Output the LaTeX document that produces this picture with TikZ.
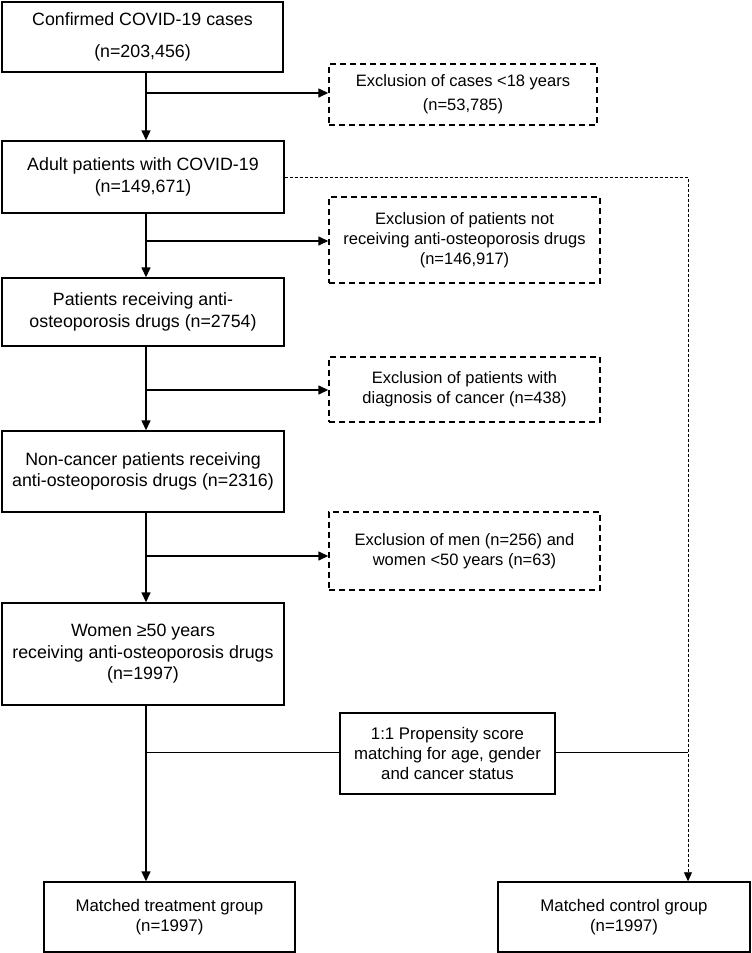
\documentclass[tikz,border=0pt]{standalone}
\usepackage{fontspec}
\setmainfont{Liberation Sans}
\usetikzlibrary{arrows.meta}
\begin{document}
\begin{tikzpicture}[x=1pt,y=-1pt,
  box/.style={draw, line width=1.4pt, align=center, inner sep=0pt, font=\fontsize{17.8}{21.5}\selectfont},
  exbox/.style={draw, line width=1.4pt, dash pattern=on 6pt off 4pt, align=center, inner sep=0pt, font=\fontsize{16.5}{20}\selectfont},
  pbox/.style={draw, line width=1.4pt, align=center, inner sep=0pt, font=\fontsize{16.8}{20}\selectfont},
  arr/.style={line width=1.4pt, -{Triangle[length=10pt,width=9pt]}},
  dline/.style={line width=0.8pt, dash pattern=on 3pt off 2pt, -{Triangle[length=9pt,width=8pt]}},
  thinline/.style={line width=1pt}]
\useasboundingbox (0,0) rectangle (752,953);

\node[box, minimum width=281pt, minimum height=70pt] (n1) at (142.5,37) {Confirmed COVID-19 cases\\[11pt](n=203,456)};
\node[box, minimum width=282pt, minimum height=72pt] (n2) at (143,177) {Adult patients with COVID-19\\(n=149,671)};
\node[box, minimum width=282pt, minimum height=68pt] (n3) at (143,312) {Patients receiving anti-\\osteoporosis drugs (n=2754)};
\node[box, minimum width=282pt, minimum height=81pt] (n4) at (143,471.5) {Non-cancer patients receiving\\anti-osteoporosis drugs (n=2316)};
\node[box, minimum width=282pt, minimum height=102pt] (n5) at (143,654) {Women ≥50 years\\receiving anti-osteoporosis drugs\\(n=1997)};

\node[exbox, minimum width=268pt, minimum height=61pt] (d1) at (463,94.5) {Exclusion of cases <18 years\\[4pt](n=53,785)};
\node[exbox, minimum width=271pt, minimum height=86pt] (d2) at (464.5,240) {Exclusion of patients not\\receiving anti-osteoporosis drugs\\(n=146,917)};
\node[exbox, minimum width=271pt, minimum height=65pt] (d3) at (464.5,389.5) {Exclusion of patients with\\diagnosis of cancer (n=438)};
\node[exbox, minimum width=271pt, minimum height=78pt] (d4) at (464.5,551) {Exclusion of men (n=256) and\\women <50 years (n=63)};

\node[pbox, minimum width=215pt, minimum height=81pt] (pr) at (447.5,753.5) {1:1 Propensity score\\matching for age, gender\\and cancer status};

\node[pbox, minimum width=251pt, minimum height=70pt] (tr) at (169.5,917) {Matched treatment group\\(n=1997)};
\node[pbox, minimum width=252pt, minimum height=70pt] (ct) at (624,917) {Matched control group\\(n=1997)};

\coordinate (sp) at (146,0);
\coordinate (dk) at (688,177);
\coordinate (c1) at (146,93);
\coordinate (c2) at (146,241);
\coordinate (c3) at (146,390);
\coordinate (c4) at (146,556);
\coordinate (pm) at (146,752);

\draw[arr] (n1.south -| sp) -- (n2.north -| sp);
\draw[arr] (n2.south -| sp) -- (n3.north -| sp);
\draw[arr] (n3.south -| sp) -- (n4.north -| sp);
\draw[arr] (n4.south -| sp) -- (n5.north -| sp);
\draw[arr] (n5.south -| sp) -- (tr.north -| sp);

\draw[arr] (c1) -- (c1 -| d1.west);
\draw[arr] (c2) -- (c2 -| d2.west);
\draw[arr] (c3) -- (c3 -| d3.west);
\draw[arr] (c4) -- (c4 -| d4.west);

\draw[dline] (n2.east |- dk) -- (dk) -- (ct.north -| dk);

\draw[thinline] (pm) -- (pm -| pr.west);
\draw[thinline] (pr.east |- pm) -- (pm -| dk);
\end{tikzpicture}
\end{document}
